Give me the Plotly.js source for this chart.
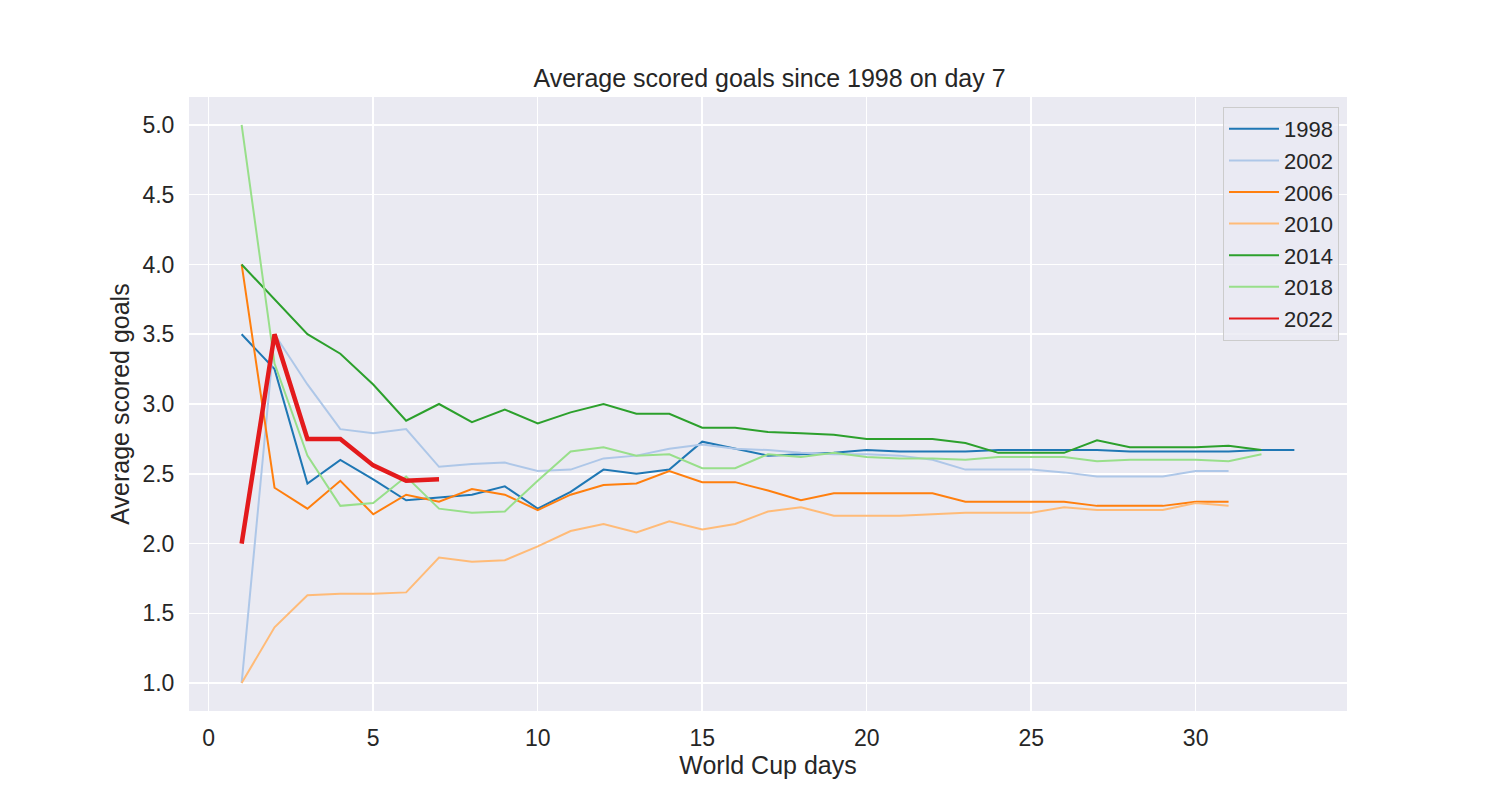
<!DOCTYPE html>
<html>
<head>
<meta charset="utf-8">
<script src="https://cdn.plot.ly/plotly-3.0.1.min.js"></script>
<style>
    html, body { margin: 0; padding: 0; background: #ffffff; }
    #chart { width: 1500px; height: 800px; }
</style>
</head>
<body>
<div id="chart"></div>
<script>
// average scored goals per World Cup day
let years = ["1998", "2002", "2006", "2010", "2014", "2018", "2022"];
let colors = ["#1f77b4", "#aec7e8", "#ff7f0e", "#ffbb78", "#2ca02c", "#98df8a", "#e31a1c"];

let goals_1998 = [3.5, 3.25, 2.43, 2.6, 2.46, 2.31, 2.33, 2.35, 2.41, 2.25, 2.37, 2.53, 2.5, 2.53, 2.73, 2.68, 2.63,
    2.64, 2.65, 2.67, 2.66, 2.66, 2.66, 2.67, 2.67, 2.67, 2.67, 2.66, 2.66, 2.66, 2.66, 2.67, 2.67];
let goals_2002 = [1.0, 3.5, 3.14, 2.82, 2.79, 2.82, 2.55, 2.57, 2.58, 2.52, 2.53, 2.61, 2.63, 2.68, 2.71, 2.68, 2.67,
    2.65, 2.64, 2.64, 2.63, 2.6, 2.53, 2.53, 2.53, 2.51, 2.48, 2.48, 2.48, 2.52, 2.52];
let goals_2006 = [4.0, 2.4, 2.25, 2.45, 2.21, 2.35, 2.3, 2.39, 2.35, 2.24, 2.35, 2.42, 2.43, 2.52, 2.44, 2.44, 2.38,
    2.31, 2.36, 2.36, 2.36, 2.36, 2.3, 2.3, 2.3, 2.3, 2.27, 2.27, 2.27, 2.3, 2.3];
let goals_2010 = [1.0, 1.4, 1.63, 1.64, 1.64, 1.65, 1.9, 1.87, 1.88, 1.98, 2.09, 2.14, 2.08, 2.16, 2.1, 2.14, 2.23,
    2.26, 2.2, 2.2, 2.2, 2.21, 2.22, 2.22, 2.22, 2.26, 2.24, 2.24, 2.24, 2.29, 2.27];
let goals_2014 = [4.0, 3.75, 3.5, 3.36, 3.14, 2.88, 3.0, 2.87, 2.96, 2.86, 2.94, 3.0, 2.93, 2.93, 2.83, 2.83, 2.8,
    2.79, 2.78, 2.75, 2.75, 2.75, 2.72, 2.65, 2.65, 2.65, 2.74, 2.69, 2.69, 2.69, 2.7, 2.67];
let goals_2018 = [5.0, 3.29, 2.63, 2.27, 2.29, 2.48, 2.25, 2.22, 2.23, 2.45, 2.66, 2.69, 2.63, 2.64, 2.54, 2.54, 2.64,
    2.62, 2.65, 2.62, 2.61, 2.61, 2.6, 2.62, 2.62, 2.62, 2.59, 2.6, 2.6, 2.6, 2.59, 2.64];
let goals_2022 = [2.0, 3.5, 2.75, 2.75, 2.56, 2.45, 2.46];

let x_ticks = [0, 5, 10, 15, 20, 25, 30];
let y_ticks = [1.0, 1.5, 2.0, 2.5, 3.0, 3.5, 4.0, 4.5, 5.0];

function dayNumbers(arr) {
    let days = [];
    for (let k = 0; k < arr.length; k++) {
        days.push(k + 1);
    }
    return days;
}

function addYear(data, name, y, color, width) {
    let trace = {
        x: dayNumbers(y), y: y, type: "scatter", mode: "lines", name: name,
        line: { color: color, width: width }
    };
    if (width > 2) {
        // thick line on the plot, but a thin one in the legend like the others
        trace.showlegend = false;
        data.push(trace);
        data.push({
            x: [null], y: [null], type: "scatter", mode: "lines", name: name,
            line: { color: color, width: 2 }
        });
        return;
    }
    data.push(trace);
}

let series = [goals_1998, goals_2002, goals_2006, goals_2010, goals_2014, goals_2018, goals_2022];
let data = [];
for (let i = 0; i < series.length; i++) {
    addYear(data, years[i], series[i], colors[i], years[i] == "2022" ? 4.5 : 2);
}

let font_color = "#262626";
let layout = {
    width: 1500,
    height: 800,
    margin: { l: 189, r: 153, t: 97, b: 89 },
    paper_bgcolor: "#ffffff",
    plot_bgcolor: "#eaeaf2",
    font: { family: "Liberation Sans, Arial, sans-serif", size: 23, color: font_color },
    title: {
        text: "Average scored goals since 1998 on day 7",
        font: { size: 25, color: font_color },
        x: 0.513, xanchor: "center",
        yref: "container", y: 0.9025, yanchor: "middle"
    },
    xaxis: {
        range: [-0.6, 34.6],
        tickvals: x_ticks,
        ticks: "outside", ticklen: 6, tickcolor: "rgba(0,0,0,0)",
        showgrid: true, gridcolor: "#ffffff", gridwidth: 1.5,
        zeroline: false, showline: false,
        tickfont: { size: 23 },
        title: { text: "World Cup days", font: { size: 25 }, standoff: 0 }
    },
    yaxis: {
        range: [0.8, 5.2],
        tickvals: y_ticks,
        tickformat: ".1f",
        ticks: "outside", ticklen: 9, tickcolor: "rgba(0,0,0,0)",
        showgrid: true, gridcolor: "#ffffff", gridwidth: 1.5,
        zeroline: false, showline: false,
        tickfont: { size: 23 },
        title: { text: "Average scored goals", font: { size: 25 }, standoff: 5 }
    },
    showlegend: true,
    legend: {
        x: 0.9931, xanchor: "right",
        y: 0.9837, yanchor: "top",
        itemwidth: 50,
        tracegroupgap: 0,
        bgcolor: "rgba(234,234,242,0.8)",
        bordercolor: "#cccccc", borderwidth: 1,
        font: { size: 22, color: font_color }
    }
};

Plotly.newPlot("chart", data, layout, { staticPlot: true });
</script>
</body>
</html>
